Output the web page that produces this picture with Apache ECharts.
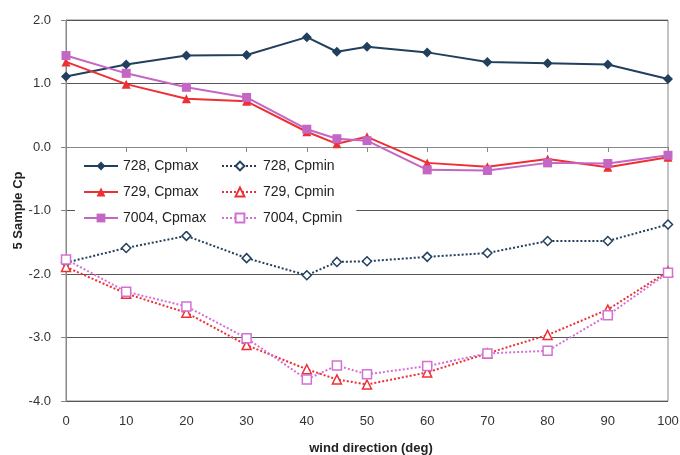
<!DOCTYPE html>
<html><head><meta charset="utf-8">
<script src="https://cdn.jsdelivr.net/npm/echarts@6/dist/echarts.min.js"></script>
<style>html,body{margin:0;padding:0;background:#fff}#c{width:680px;height:455px}</style>
</head><body><div id="c"></div>
<script>
const directions = [0, 10, 20, 30, 40, 45, 50, 60, 70, 80, 90, 100];
const cpmax728  = [1.11, 1.30, 1.44, 1.45, 1.73, 1.50, 1.58, 1.49, 1.34, 1.32, 1.30, 1.07];
const cpmax729  = [1.34, 0.99, 0.76, 0.72, 0.24, 0.05, 0.16, -0.25, -0.31, -0.19, -0.32, -0.16];
const cpmax7004 = [1.44, 1.16, 0.94, 0.78, 0.28, 0.13, 0.10, -0.36, -0.37, -0.25, -0.26, -0.13];
const cpmin728  = [-1.82, -1.59, -1.40, -1.75, -2.02, -1.81, -1.80, -1.73, -1.67, -1.48, -1.48, -1.22];
const cpmin729  = [-1.89, -2.31, -2.61, -3.12, -3.50, -3.66, -3.74, -3.55, -3.25, -2.96, -2.56, -1.96];
const cpmin7004 = [-1.77, -2.28, -2.51, -3.01, -3.66, -3.44, -3.58, -3.45, -3.25, -3.21, -2.65, -1.98];
const yTickLabels = ['-4.0', '-3.0', '-2.0', '-1.0', '0.0', '1.0', '2.0'];

const NAVY = '#22405e', RED = '#ee2f35', PINK = '#c466c4', PINK2 = '#d470d4';
const pairs = v => directions.map((d, i) => [d, v[i]]);
function ser(name, data, color, symbol, size, dotted) {
  return {
    name, type: 'line', data: pairs(data), symbol, symbolSize: size,
    lineStyle: { color, width: 2, type: dotted ? 'dotted' : 'solid' },
    itemStyle: { color: dotted ? '#fff' : color, borderColor: color, borderWidth: dotted ? 1.5 : 0 },
    emphasis: { disabled: true }, z: dotted ? 3 : 4
  };
}
const chart = echarts.init(document.getElementById('c'));
const legendText = { fontFamily: 'Arial, Liberation Sans', fontSize: 14, color: '#222' };
chart.setOption({
  animation: false,
  backgroundColor: '#fff',
  grid: { left: 66, right: 12, top: 20, bottom: 54, show: true, borderColor: '#888', borderWidth: 1,
    outerBoundsMode: 'none', containLabel: false },
  legend: [
    { data: ['728, Cpmax', '729, Cpmax', '7004, Cpmax'], orient: 'vertical', left: 75, top: 155,
      itemWidth: 34, itemHeight: 11, itemGap: 12, textStyle: legendText, backgroundColor: '#fff', padding: [4, 12, 6, 8] },
    { data: ['728, Cpmin', '729, Cpmin', '7004, Cpmin'], orient: 'vertical', left: 215, top: 155,
      itemWidth: 36, itemHeight: 11, itemGap: 12, textStyle: legendText, backgroundColor: '#fff', padding: [4, 14, 6, 6] }
  ],
  xAxis: {
    type: 'value', min: 0, max: 100, interval: 10,
    name: 'wind direction (deg)', nameLocation: 'middle', nameGap: 41, nameMoveOverlap: false,
    nameTextStyle: { fontFamily: 'Arial, Liberation Sans', fontSize: 13, fontWeight: 'bold', color: '#222', padding: [0, 0, 0, 8] },
    axisLine: { lineStyle: { color: '#888' } },
    axisTick: { show: true, length: 5, lineStyle: { color: '#888' } },
    axisLabel: { fontFamily: 'Arial, Liberation Sans', fontSize: 13, color: '#333', margin: 14 },
    splitLine: { show: false }
  },
  yAxis: {
    type: 'value', min: -4, max: 2, interval: 1,
    name: '5 Sample Cp', nameLocation: 'middle', nameGap: 41, nameMoveOverlap: false,
    nameTextStyle: { fontFamily: 'Arial, Liberation Sans', fontSize: 13, fontWeight: 'bold', color: '#222' },
    axisLine: { show: true, lineStyle: { color: '#888' } },
    axisTick: { show: true, inside: false, length: 5, lineStyle: { color: '#888' } },
    axisLabel: { fontFamily: 'Arial, Liberation Sans', fontSize: 13, color: '#333', margin: 15,
      formatter: v => yTickLabels[Math.round(v) + 4] },
    splitLine: { show: true, lineStyle: { color: '#555', width: 1 } }
  },
  series: [
    ser('728, Cpmax', cpmax728, NAVY, 'diamond', 10, false),
    ser('729, Cpmax', cpmax729, RED, 'triangle', 9, false),
    ser('7004, Cpmax', cpmax7004, PINK, 'rect', 9, false),
    ser('728, Cpmin', cpmin728, NAVY, 'diamond', 9, true),
    ser('729, Cpmin', cpmin729, RED, 'triangle', 9, true),
    ser('7004, Cpmin', cpmin7004, PINK2, 'rect', 9, true)
  ]
});
</script></body></html>
